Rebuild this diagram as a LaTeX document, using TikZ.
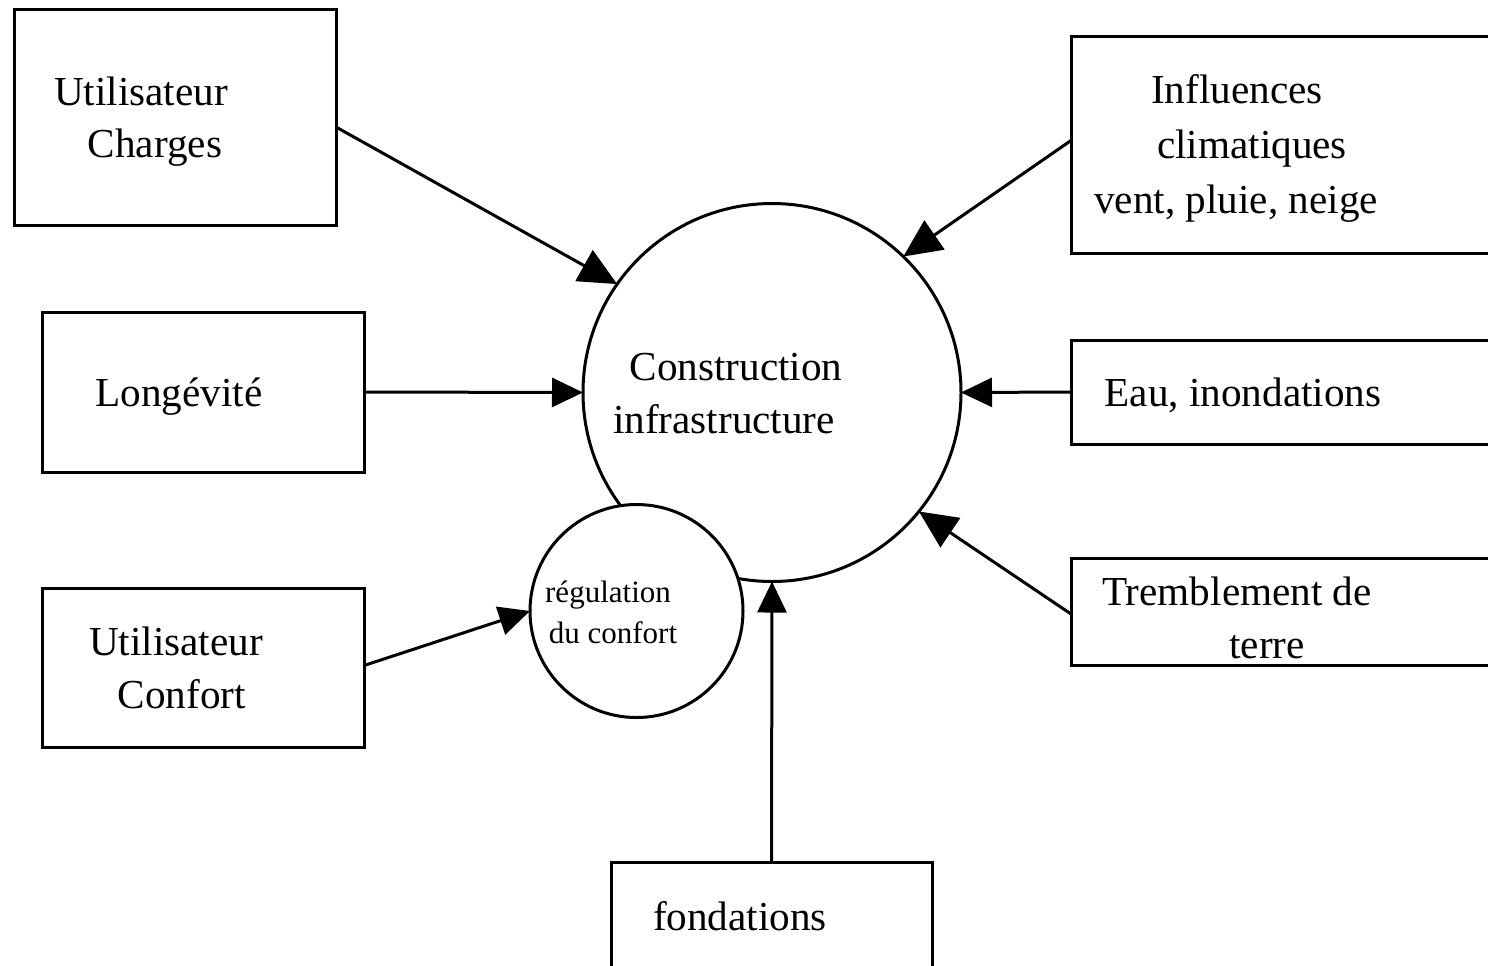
\documentclass[tikz,border=0pt]{standalone}
\usepackage{fontspec}
\setmainfont{Liberation Serif}
\usetikzlibrary{arrows.meta,calc}
\begin{document}
\begin{tikzpicture}[x=0.5pt,y=-0.5pt,
  box/.style={draw, line width=1.5pt, rectangle, inner sep=0pt, outer sep=0pt},
  ring/.style={draw, line width=1.5pt, circle, inner sep=0pt, outer sep=0pt, fill=white},
  lbl/.style={inner sep=0pt, anchor=base, font=\fontsize{20.6}{24}\selectfont},
  slbl/.style={inner sep=0pt, anchor=base, font=\fontsize{15.5}{18}\selectfont},
  conn/.style={line width=1.5pt},
  bigtip/.style={-{Triangle[length=19pt,width=17.5pt]}},
  smalltip/.style={-{Triangle[length=15.5pt,width=14.5pt]}}]
\useasboundingbox (0,0) rectangle (1488,965);
\clip (0,0) rectangle (1488,965);

% boxes
\node[box, minimum width=161pt, minimum height=108pt] (b1) at (175,117) {};
\node[box, minimum width=161pt, minimum height=80pt] (b2) at (203,392) {};
\node[box, minimum width=161pt, minimum height=79.5pt] (b3) at (203,667.5) {};
\node[box, minimum width=219.5pt, minimum height=108.5pt] (b4) at (1290.5,144.5) {};
\node[box, minimum width=219.5pt, minimum height=52pt] (b5) at (1290.5,392) {};
\node[box, minimum width=219.5pt, minimum height=53.5pt] (b6) at (1290.5,611.5) {};
\node[box, minimum width=160.5pt, minimum height=69pt] (b7) at (771.5,931) {};

% circles
\node[ring, minimum size=189pt] (c) at (772,392.5) {};
\node[ring, minimum size=106.5pt] (s) at (636.5,611) {};

% connectors
\draw[conn,bigtip] ($(b1.east)+(0,10)$) -- (c.145);
\draw[conn,smalltip] (b2.east) -- (c.west);
\draw[conn,smalltip] ($(b3.east)+(0,-2)$) -- (s.west);
\draw[conn,bigtip] ($(b4.west)+(0,-4)$) -- (c.46);
\draw[conn,smalltip] (b5.west) -- (c.east);
\draw[conn,bigtip] ($(b6.west)+(0,2.5)$) -- (c.-39);
\draw[conn,smalltip] (b7.north) -- (c.south);

% texts
\node[lbl] (t1a) at (141,105) {Utilisateur};
\node[lbl] (t1b) at (155,157) {Charges};
\node[lbl] (t2) at (179,406) {Longévité};
\node[lbl] (t3a) at (176,655) {Utilisateur};
\node[lbl] (t3b) at (182,708) {Confort};
\node[lbl] (t4a) at (1237,103) {Influences};
\node[lbl] (t4b) at (1252,158) {climatiques};
\node[lbl] (t4c) at (1236,213) {vent, pluie, neige};
\node[lbl] (t5) at (1243,406) {Eau, inondations};
\node[lbl] (t6a) at (1237,605) {Tremblement de};
\node[lbl] (t6b) at (1267,658) {terre};
\node[lbl] (t7) at (740,930) {fondations};
\node[lbl] (tca) at (736,380) {Construction};
\node[lbl] (tcb) at (724,433) {infrastructure};
\node[slbl] (tsa) at (608,602) {régulation};
\node[slbl] (tsb) at (613,643) {du confort};
\end{tikzpicture}
\end{document}
